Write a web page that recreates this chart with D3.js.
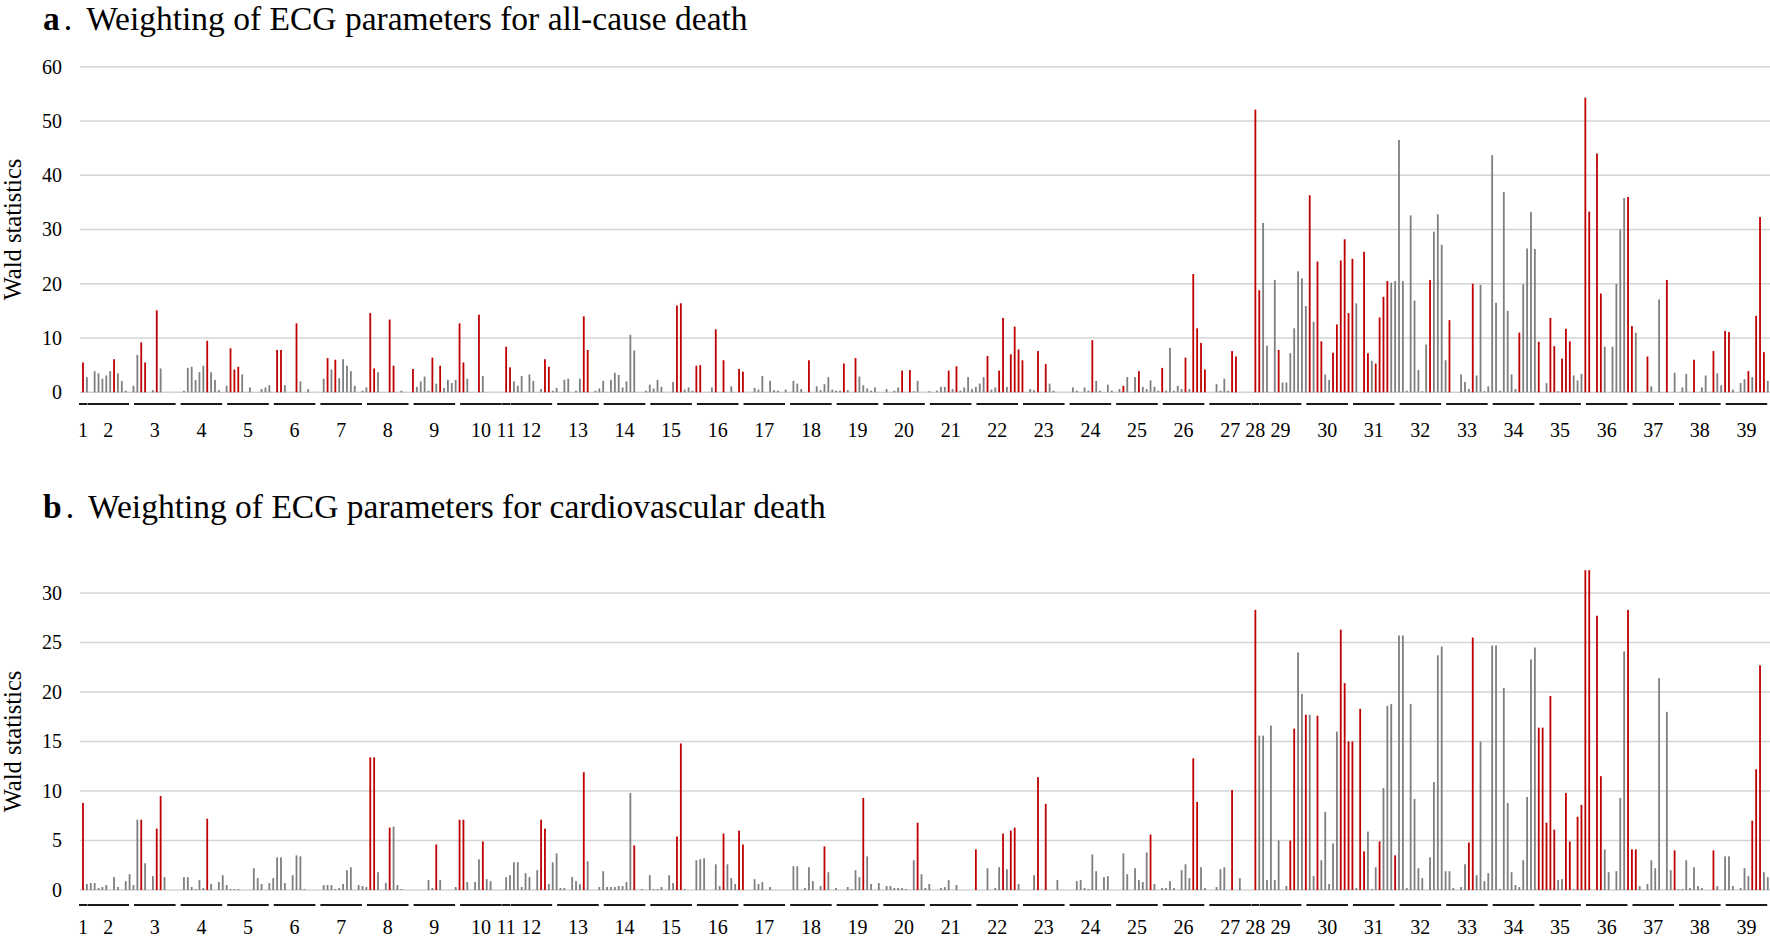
<!DOCTYPE html>
<html><head><meta charset="utf-8">
<script src="https://cdn.jsdelivr.net/npm/d3@7"></script>
<style>
body{margin:0;background:#fff}
svg{display:block}
text{font-family:"Liberation Serif","Times New Roman",serif;fill:#000}
</style>
</head><body>
<svg id="chart" width="1770" height="938"></svg>
<script>
// ---------- DATA ----------
const groupLabels = ["1","2","3","4","5","6","7","8","9","10","11","12","13","14","15","16","17","18","19","20",
  "21","22","23","24","25","26","27","28","29","30","31","32","33","34","35","36","37","38","39"];
const groupSizes = [1,12,12,12,12,12,12,12,12,12,1,12,12,12,12,12,12,12,12,12,12,12,12,12,12,12,12,1,12,12,12,12,12,12,12,12,12,12,12];

const ticksAllCause = [0,10,20,30,40,50,60];
const ticksCardio = [0,5,10,15,20,25,30];

// Wald statistics, all-cause death (one inner array per parameter group)
const waldAllCause = [
  [5.5],
  [2.8,0,3.9,3.5,2.5,3.1,3.9,6.1,3.5,2.1,0.3,0],
  [1.2,6.9,9.2,5.5,0,0.4,15.1,4.4,0,0,0,0],
  [0,0.3,4.5,4.7,2.3,3.7,4.9,9.5,3.7,2.3,0.4,0],
  [1.2,8.1,4.2,4.7,3.3,0,0.9,0,0,0.6,0.9,1.3],
  [0,7.8,7.8,1.3,0,0,12.7,2.0,0,0.6,0,0],
  [0,2.5,6.3,4.2,6.0,2.6,6.1,4.9,3.9,1.2,0,0.3],
  [0.9,14.6,4.4,3.7,0,0,13.4,4.9,0,0.3,0,0],
  [4.3,1.0,2.0,2.9,0.3,6.4,1.6,4.9,0.8,2.3,1.7,2.3],
  [12.7,5.5,2.5,0,0,14.3,3.0,0,0,0,0,0],
  [8.4],
  [4.6,2.0,1.2,3.0,0,3.3,2.1,0,0.6,6.1,4.7,0.3],
  [0.8,0,2.3,2.5,0,0.3,2.5,14.0,7.8,0,0.3,0.7],
  [2.1,0,2.3,3.6,3.2,0.9,2.0,10.6,7.7,0,0,0.3],
  [1.4,0.7,2.3,1.0,0,0,1.9,16.0,16.4,0.5,0.9,0.3],
  [4.9,5.0,0,0,0.9,11.6,0,5.9,0,1.1,0,4.3],
  [3.8,0,0,0.8,0.5,3.0,0,2.1,0.4,0.3,0,0.5],
  [0,2.1,1.6,0.6,0,5.9,0,1.1,0.4,1.5,2.8,0.5],
  [0.3,0.3,5.3,0.4,0,6.3,2.9,1.3,0.7,0.3,0.9,0],
  [0,0.6,0,0.3,0.9,4.0,0,4.1,0.2,2.1,0,0],
  [0.2,0,0.3,1.0,1.0,4.0,0.6,4.8,0.3,0.9,2.8,0.6],
  [1.0,1.6,2.8,6.7,0.5,0.9,4.0,13.7,1.0,7.0,12.1,7.9],
  [5.9,0,0.6,0.4,7.6,0,5.2,1.6,0.3,0,0,0],
  [0,0.9,0.3,0,0.9,0.3,9.6,2.1,0.3,0,1.4,0.3],
  [0,0.6,1.2,2.8,0,2.8,3.9,1.0,0.6,2.2,1.0,0.3],
  [4.5,0.3,8.2,0.3,1.2,0.6,6.4,0.6,21.8,11.8,9.1,4.2],
  [0,0,1.5,0.3,2.5,0.3,7.6,6.6,0,0,0,0],
  [52.1],
  [18.8,31.2,8.6,0,20.7,7.8,1.8,1.8,7.2,11.8,22.3,21.0],
  [15.9,36.3,13.0,24.1,9.4,3.3,2.3,7.3,12.5,24.3,28.2,14.6],
  [24.6,16.4,0,25.9,7.2,5.8,5.3,13.8,17.6,20.5,20.2,20.5],
  [46.5,20.5,0.3,32.6,16.9,4.1,0.2,8.8,20.7,29.6,32.8,27.2],
  [5.9,13.3,0,0,3.3,1.9,0.6,20.0,3.1,19.8,0.2,1.1],
  [43.7,16.5,0.3,36.9,15.0,3.3,0.6,11.0,19.9,26.5,33.2,26.4],
  [9.3,0,1.7,13.7,8.5,0.2,6.2,11.7,9.4,3.1,2.2,3.4],
  [54.3,33.3,0,44.0,18.2,8.4,0,8.4,20.0,30.0,35.8,36.0],
  [12.2,11.0,0,0,6.6,1.1,0,17.1,0,20.7,0,3.6],
  [0,0.9,3.4,0,6.0,0,0.9,3.1,0,7.6,3.5,1.3],
  [11.3,11.1,0.5,0,1.7,2.4,3.9,2.8,14.1,32.3,7.4,2.1]
];
// 1 = significant (red), 0 = not significant (grey)
const sigAllCause = [
  [1],
  [0,0,0,0,0,0,0,1,0,0,0,0],
  [0,0,1,1,0,0,1,0,0,0,0,0],
  [0,0,0,0,0,0,0,1,0,0,0,0],
  [0,1,1,1,0,0,0,0,0,0,0,0],
  [0,1,1,0,0,0,1,0,0,0,0,0],
  [0,0,1,0,1,0,0,0,0,0,0,0],
  [0,1,1,0,0,0,1,1,0,0,0,0],
  [1,0,0,0,0,1,0,1,0,0,0,0],
  [1,1,0,0,0,1,0,0,0,0,0,0],
  [1],
  [1,0,0,0,0,0,0,0,0,1,1,0],
  [0,0,0,0,0,0,0,1,1,0,0,0],
  [0,0,0,0,0,0,0,0,0,0,0,0],
  [0,0,0,0,0,0,0,1,1,0,0,0],
  [1,1,0,0,0,1,0,1,0,0,0,1],
  [1,0,0,0,0,0,0,0,0,0,0,0],
  [0,0,0,0,0,1,0,0,0,0,0,0],
  [0,0,1,0,0,1,0,0,0,0,0,0],
  [0,0,0,0,0,1,0,1,0,0,0,0],
  [0,0,0,0,0,1,0,1,0,0,0,0],
  [0,0,0,1,0,0,1,1,0,1,1,1],
  [1,0,0,0,1,0,1,0,0,0,0,0],
  [0,0,0,0,0,0,1,0,0,0,0,0],
  [0,0,1,0,0,0,1,0,0,0,0,0],
  [1,0,0,0,0,0,1,0,1,1,1,1],
  [0,0,0,0,0,0,1,1,0,0,0,0],
  [1],
  [1,0,0,0,0,1,0,0,0,0,0,0],
  [0,1,0,1,1,0,0,1,1,1,1,1],
  [1,0,0,1,1,0,1,1,1,1,0,0],
  [0,0,0,0,0,0,0,0,1,0,0,0],
  [0,1,0,0,0,0,0,1,0,0,0,0],
  [0,0,0,0,0,0,0,1,0,0,0,0],
  [1,0,0,1,1,0,1,1,1,0,0,0],
  [1,1,0,1,1,0,0,0,0,0,0,1],
  [1,0,0,0,1,0,0,0,0,1,0,0],
  [0,0,0,0,1,0,0,0,0,1,0,0],
  [1,1,0,0,0,0,1,0,1,1,1,0]
];

// Wald statistics, cardiovascular death
const waldCardio = [
  [8.8],
  [0.6,0.7,0.7,0.2,0.3,0.5,0,1.3,0.3,0,0.9,1.6],
  [0.5,7.1,7.1,2.7,0,1.4,6.2,9.5,1.3,0,0,0],
  [0,1.3,1.3,0.3,0.1,1.0,0.2,7.2,0.6,0,0.8,1.5],
  [0.5,0.1,0.1,0.1,0,0,0,2.2,1.2,0.6,0,0.7],
  [1.2,3.3,3.3,0.7,0,1.5,3.5,3.4,0.1,0,0,0],
  [0,0.5,0.5,0.5,0.1,0.2,0.6,2.0,2.3,0,0.5,0.4],
  [0.3,13.4,13.4,1.8,0,0.7,6.3,6.4,0.5,0.1,0,0],
  [0,0,0,0,1.0,0.2,4.6,1.0,0,0,0,0.3],
  [7.1,7.1,0.8,0,0.8,3.1,4.9,1.1,0.9,0,0,0],
  [1.3],
  [1.5,2.8,2.8,0.3,1.7,1.3,0,2.0,7.1,6.2,0.6,2.8],
  [3.7,0.2,0.2,0,1.3,0.9,0.6,11.9,2.9,0,0,0.3],
  [1.9,0.3,0.3,0.3,0.4,0.4,0.8,9.8,4.5,0,0.1,0],
  [1.5,0.1,0.1,0.3,0,1.5,0.7,5.4,14.8,0.1,0,0],
  [3.0,3.1,3.2,0,0,2.6,0.4,5.7,2.6,1.2,0.6,6.0],
  [4.6,0,0,1.1,0.6,0.8,0,0.3,0,0,0,0],
  [0,2.4,2.4,0,0.2,2.3,0.9,0,0.4,4.4,1.8,0],
  [0.2,0,0,0.3,0.1,2.0,1.3,9.3,3.4,0.6,0,0.7],
  [0,0.4,0.4,0.2,0.2,0.2,0.1,0,3.0,6.8,1.6,0.2],
  [0.6,0,0,0.2,0.3,1.0,0,0.5,0,0,0,0],
  [4.1,0,0,2.2,0,0.2,2.3,5.7,2.1,6.0,6.3,0.6],
  [0,0,0,1.5,11.4,0,8.7,0,0,1.0,0,0],
  [0,0,0.9,1.0,0.2,0.1,3.6,1.9,0,1.3,1.4,0],
  [0,0,3.7,1.6,0,2.2,1.0,0.8,3.8,5.6,0.6,0],
  [0.2,0.2,0.9,0.2,0,2.0,2.6,1.2,13.3,8.9,2.3,0.2],
  [0,0,0.3,2.1,2.3,0,10.1,0,1.2,0,0,0],
  [28.3],
  [15.6,15.6,1.0,16.6,1.0,5.0,0,0.4,5.0,16.3,24.0,19.8],
  [17.7,17.7,1.4,17.6,3.0,7.9,0.6,4.7,16.0,26.3,20.9,15.0],
  [15.0,0.2,18.3,3.9,5.9,0.1,2.3,4.9,10.3,18.6,18.8,3.5],
  [25.7,25.7,0.2,18.8,9.2,2.2,1.2,0,3.3,10.9,23.7,24.6],
  [1.9,1.9,0.2,0,0.3,2.6,4.8,25.5,1.5,15.0,0.9,1.7],
  [24.7,24.7,0.1,20.4,8.8,1.8,0.5,0.3,3.0,9.4,23.3,24.5],
  [16.4,16.4,6.8,19.6,6.1,1.0,1.1,9.8,4.9,0.1,7.4,8.6],
  [32.3,32.3,0,27.7,11.5,4.1,1.8,0,1.9,9.3,24.1,28.3],
  [4.1,4.1,0.4,0,0.6,3.0,2.2,21.4,0,18.0,2.0,4.0],
  [0.1,0.1,3.0,0.2,2.3,0.4,0.2,0,0,4.0,0.4,0],
  [3.4,3.4,0.4,0,0.2,2.2,1.4,7.0,12.2,22.7,1.8,1.3]
];
const sigCardio = [
  [1],
  [0,0,0,0,0,0,0,0,0,0,0,0],
  [0,0,1,0,0,0,1,1,0,0,0,0],
  [0,0,0,0,0,0,0,1,0,0,0,0],
  [0,0,0,0,0,0,0,0,0,0,0,0],
  [0,0,0,0,0,0,0,0,0,0,0,0],
  [0,0,0,0,0,0,0,0,0,0,0,0],
  [0,1,1,0,0,0,1,0,0,0,0,0],
  [0,0,0,0,0,0,1,0,0,0,0,0],
  [1,1,0,0,0,0,1,0,0,0,0,0],
  [0],
  [0,0,0,0,0,0,0,0,1,1,0,0],
  [0,0,0,0,0,0,0,1,0,0,0,0],
  [0,0,0,0,0,0,0,0,1,0,0,0],
  [0,0,0,0,0,0,0,1,1,0,0,0],
  [0,0,0,0,0,0,0,1,0,0,0,1],
  [1,0,0,0,0,0,0,0,0,0,0,0],
  [0,0,0,0,0,0,0,0,0,1,0,0],
  [0,0,0,0,0,0,0,1,0,0,0,0],
  [0,0,0,0,0,0,0,0,0,1,0,0],
  [0,0,0,0,0,0,0,0,0,0,0,0],
  [1,0,0,0,0,0,0,1,0,1,1,0],
  [0,0,0,0,1,0,1,0,0,0,0,0],
  [0,0,0,0,0,0,0,0,0,0,0,0],
  [0,0,0,0,0,0,0,0,0,1,0,0],
  [0,0,0,0,0,0,0,0,1,1,0,0],
  [0,0,0,0,0,0,1,0,0,0,0,0],
  [1],
  [0,0,0,0,0,0,0,0,1,1,0,0],
  [1,0,0,1,0,0,0,0,0,1,1,1],
  [1,0,1,1,0,0,0,1,0,0,0,1],
  [0,0,0,0,0,0,0,0,0,0,0,0],
  [0,0,0,0,0,0,1,1,0,0,0,0],
  [0,0,0,0,0,0,0,0,0,0,0,0],
  [1,1,1,1,1,0,0,1,1,0,1,1],
  [1,1,0,1,1,0,0,0,0,0,0,1],
  [1,1,0,0,0,0,0,0,0,0,0,1],
  [0,0,0,0,0,0,0,0,0,1,0,0],
  [0,0,0,0,0,0,0,1,1,1,0,0]
];

// ---------- LAYOUT / STYLE ----------
const RED = "#c00000", GREY = "#7f7f7f", GRID = "#d4d4d4", LINE = "#1a1a1a";
const W = 1770;
const svg = d3.select("#chart");

function flatten(vals, sig) {
  const out = []; let i = 0;
  vals.forEach((grp, g) => grp.forEach((v, k) => { out.push({i: i++, g, v, s: sig[g][k]}); }));
  return out;
}
const nBars = d3.sum(groupSizes);
const x = d3.scaleBand().domain(d3.range(nBars)).range([81.06, 81.06 + nBars * 3.882]).padding(0);
const bw = x.bandwidth();
const barW = 1.8;

// group ranges
const groups = [];
{ let s = 0; groupSizes.forEach((n, g) => { groups.push({g, start: s, end: s + n - 1, label: groupLabels[g]}); s += n; }); }

function panel(opts) {
  const y = d3.scaleLinear().domain([0, opts.max]).range([opts.bottom, opts.top]);
  const gp = svg.append("g");

  // title
  const t = gp.append("text").attr("x", 43).attr("y", opts.titleY).style("font-size", "33.5px");
  t.append("tspan").style("font-weight", "bold").text(opts.letter);
  t.append("tspan").attr("dx", 4).text(".");
  t.append("tspan").attr("dx", 14).text(opts.title);

  // gridlines
  gp.selectAll("line.grid").data(opts.ticks).join("line")
    .attr("x1", 80).attr("x2", W).attr("y1", d => y(d)).attr("y2", d => y(d))
    .attr("stroke", GRID).attr("stroke-width", 1.6);

  // tick labels
  gp.selectAll("text.tick").data(opts.ticks).join("text")
    .attr("x", 62).attr("y", d => y(d)).attr("dy", "0.34em")
    .attr("text-anchor", "end").style("font-size", "20px").text(d => d);

  // y axis title
  gp.append("text")
    .attr("transform", `translate(20.5,${(opts.top + opts.bottom) / 2}) rotate(-90)`)
    .attr("text-anchor", "middle").style("font-size", "24.5px").text("Wald statistics");

  // bars
  const bars = flatten(opts.values, opts.sig).filter(d => d.v > 0);
  gp.selectAll("rect.bar").data(bars).join("rect")
    .attr("x", d => x(d.i) + (bw - barW) / 2)
    .attr("width", barW)
    .attr("y", d => y(d.v))
    .attr("height", d => y(0) - y(d.v))
    .attr("fill", d => d.s ? RED : GREY);

  // group underlines
  gp.selectAll("line.ul").data(groups).join("line")
    .attr("x1", d => d.start === d.end ? x(d.start) + bw / 2 - 4 : x(d.start) + 2.5)
    .attr("x2", d => d.start === d.end ? x(d.start) + bw / 2 + 4 : x(d.end) + bw - 2.5)
    .attr("y1", opts.ulY).attr("y2", opts.ulY)
    .attr("stroke", LINE).attr("stroke-width", 2);

  // group labels
  gp.selectAll("text.gl").data(groups).join("text")
    .attr("x", d => (x(d.start) + x(d.end) + bw) / 2)
    .attr("y", opts.labelY)
    .attr("text-anchor", "middle").style("font-size", "20px").text(d => d.label);
}

panel({letter: "a", title: "Weighting of ECG parameters for all-cause death", titleY: 30,
  top: 66.7, bottom: 392.3, max: 60, ticks: ticksAllCause,
  values: waldAllCause, sig: sigAllCause, ulY: 404, labelY: 436.5});
panel({letter: "b", title: "Weighting of ECG parameters for cardiovascular death", titleY: 518,
  top: 593, bottom: 890, max: 30, ticks: ticksCardio,
  values: waldCardio, sig: sigCardio, ulY: 905, labelY: 933.5});
</script>
</body></html>
